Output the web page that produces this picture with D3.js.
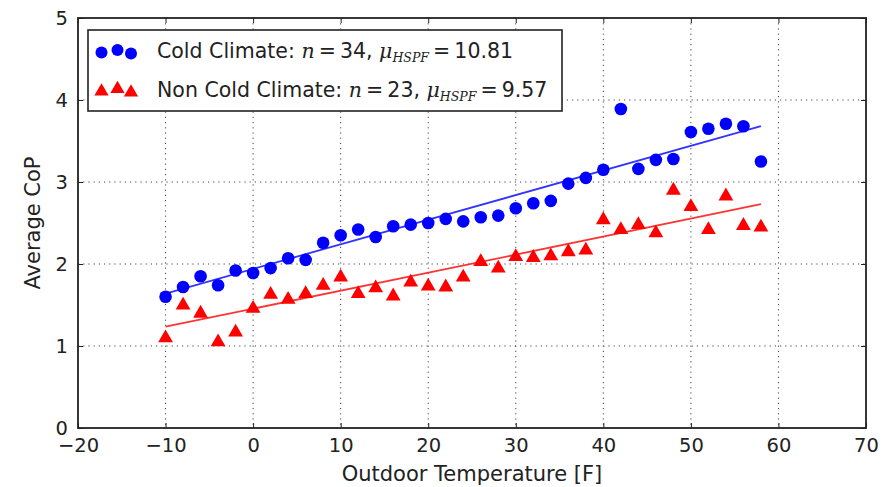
<!DOCTYPE html>
<html lang="en">
<head>
<meta charset="UTF-8">
<title>Average CoP vs Outdoor Temperature</title>
<script src="https://d3js.org/d3.v7.min.js"></script>
<style>
    body{ margin: 0; background: #fff; }
    text{ font-family: "DejaVu Sans", sans-serif; fill: #222; }
    .grid line{ stroke: #444; stroke-width: 1; stroke-dasharray: 1.2,4; }
    .math{ font-family: "DejaVu Serif", serif; font-style: italic; }
</style>
</head>
<body>
<svg width="884" height="487"></svg>
<script>
    // outdoor temperature bins [F]
    let temps = [-10,-8,-6,-4,-2,0,2,4,6,8,10,12,14,16,18,20,22,24,26,28,30,32,34,36,38,40,42,44,46,48,50,52,54,56,58];
    let coldCop = [1.60,1.72,1.85,1.74,1.92,1.89,1.95,2.07,2.05,2.26,2.35,2.42,2.33,2.46,2.48,2.50,2.55,2.52,2.57,2.59,2.68,2.74,2.77,2.98,3.05,3.15,3.89,3.16,3.27,3.28,3.61,3.65,3.71,3.68,3.25];
    let nonColdCop = [1.11,1.51,1.41,1.06,1.18,1.47,1.64,1.58,1.65,1.75,1.85,1.65,1.72,1.62,1.79,1.74,1.73,1.85,2.04,1.96,2.10,2.09,2.11,2.16,2.18,2.55,2.43,2.49,2.39,2.91,2.71,2.43,2.84,2.48,2.46];
    // fitted line end points (at -10 F and 58 F)
    let fitX = [-10, 58];
    let coldFit = [1.64, 3.68];
    let nonColdFit = [1.235, 2.73];
    let xTicks = [-20,-10,0,10,20,30,40,50,60,70];
    let yTicks = [0,1,2,3,4,5];

    let svg = d3.select('svg');
    let m = {left:78, right:866, top:18, bottom:428};
    let xScale = d3.scaleLinear().domain([-20,70]).range([m.left,m.right]);
    let yScale = d3.scaleLinear().domain([0,5]).range([m.bottom,m.top]);

    // grid
    let grid = svg.append('g').attr('class','grid');
    grid.selectAll('.gx').data(xTicks.slice(1,-1)).join('line')
        .attr('x1',d=>xScale(d)).attr('x2',d=>xScale(d))
        .attr('y1',m.top).attr('y2',m.bottom);
    grid.selectAll('.gy').data(yTicks.slice(1,-1)).join('line')
        .attr('class','gy')
        .attr('y1',d=>yScale(d)).attr('y2',d=>yScale(d))
        .attr('x1',m.left).attr('x2',m.right);

    // axes (ticks inward on all sides)
    svg.append('g').attr('transform','translate(0,'+m.bottom+')')
        .call(d3.axisBottom(xScale).tickValues(xTicks).tickSizeInner(-5).tickSizeOuter(0).tickPadding(10));
    svg.append('g').attr('transform','translate(0,'+m.top+')')
        .call(d3.axisTop(xScale).tickValues(xTicks).tickSizeInner(-5).tickSizeOuter(0).tickFormat(''));
    svg.append('g').attr('transform','translate('+m.left+',0)')
        .call(d3.axisLeft(yScale).tickValues(yTicks).tickFormat(d3.format('d')).tickSizeInner(-5).tickSizeOuter(0).tickPadding(10));
    svg.append('g').attr('transform','translate('+m.right+',0)')
        .call(d3.axisRight(yScale).tickValues(yTicks).tickSizeInner(-5).tickSizeOuter(0).tickFormat(''));
    svg.selectAll('.domain').remove();
    svg.selectAll('.tick line').attr('stroke','#222');
    svg.selectAll('.tick text').attr('font-size',19.5).attr('font-family','DejaVu Sans').attr('fill','#222');

    svg.append('rect').attr('x',m.left).attr('y',m.top)
        .attr('width',m.right-m.left).attr('height',m.bottom-m.top)
        .attr('fill','none').attr('stroke','#222').attr('stroke-width',1.8);

    // fit lines
    let fitLine = d3.line().x(d=>xScale(d[0])).y(d=>yScale(d[1]));
    svg.append('path').attr('d',fitLine(d3.zip(fitX,coldFit)))
        .attr('stroke','#3333ff').attr('stroke-width',1.8).attr('fill','none');
    svg.append('path').attr('d',fitLine(d3.zip(fitX,nonColdFit)))
        .attr('stroke','#ff3333').attr('stroke-width',1.8).attr('fill','none');

    // markers
    let tri = d3.symbol().type(d3.symbolTriangle).size(95);
    svg.append('g').selectAll('circle').data(d3.zip(temps,coldCop)).join('circle')
        .attr('cx',d=>xScale(d[0])).attr('cy',d=>yScale(d[1])).attr('r',6.3)
        .attr('fill','#0000ff');
    svg.append('g').selectAll('path').data(d3.zip(temps,nonColdCop)).join('path')
        .attr('d',tri)
        .attr('transform',d=>'translate('+xScale(d[0])+','+(yScale(d[1])+1)+')')
        .attr('fill','#ff0000');

    // legend
    let lg = svg.append('g');
    lg.append('rect').attr('x',88).attr('y',30).attr('width',474).attr('height',81)
        .attr('fill','#fff').attr('stroke','#222').attr('stroke-width',1.6);
    let lx = [101.5,117.5,131], ldy = [1.5,-1,2.5];
    lg.selectAll('.lc').data(lx).join('circle')
        .attr('cx',d=>d).attr('cy',(d,i)=>51+ldy[i]).attr('r',6).attr('fill','#0000ff');
    lg.selectAll('.lt').data(lx).join('path').attr('class','lt')
        .attr('d',d3.symbol().type(d3.symbolTriangle).size(88))
        .attr('transform',(d,i)=>'translate('+d+','+(90+ldy[i])+')').attr('fill','#ff0000');

    function legendText(y, label, n, mu){
        let t = lg.append('text').attr('x',157).attr('y',y).attr('font-size',20.5);
        t.append('tspan').text(label+': ');
        t.append('tspan').attr('class','math').text('n');
        t.append('tspan').text('\u2009=\u2009'+n+', ');
        t.append('tspan').attr('class','math').text('\u03bc');
        t.append('tspan').attr('class','math').attr('font-size',12.5).attr('dy',4).text('HSPF');
        t.append('tspan').attr('dy',-4).text('\u2009=\u2009'+mu);
    }
    legendText(58, 'Cold Climate', 34, '10.81');
    legendText(97, 'Non Cold Climate', 23, '9.57');

    // axis titles
    svg.append('text').attr('x',(m.left+m.right)/2).attr('y',481)
        .attr('text-anchor','middle').attr('font-size',21).text('Outdoor Temperature [F]');
    svg.append('text').attr('transform','translate(40,'+((m.top+m.bottom)/2)+') rotate(-90)')
        .attr('text-anchor','middle').attr('font-size',21).text('Average CoP');
</script>
</body>
</html>
